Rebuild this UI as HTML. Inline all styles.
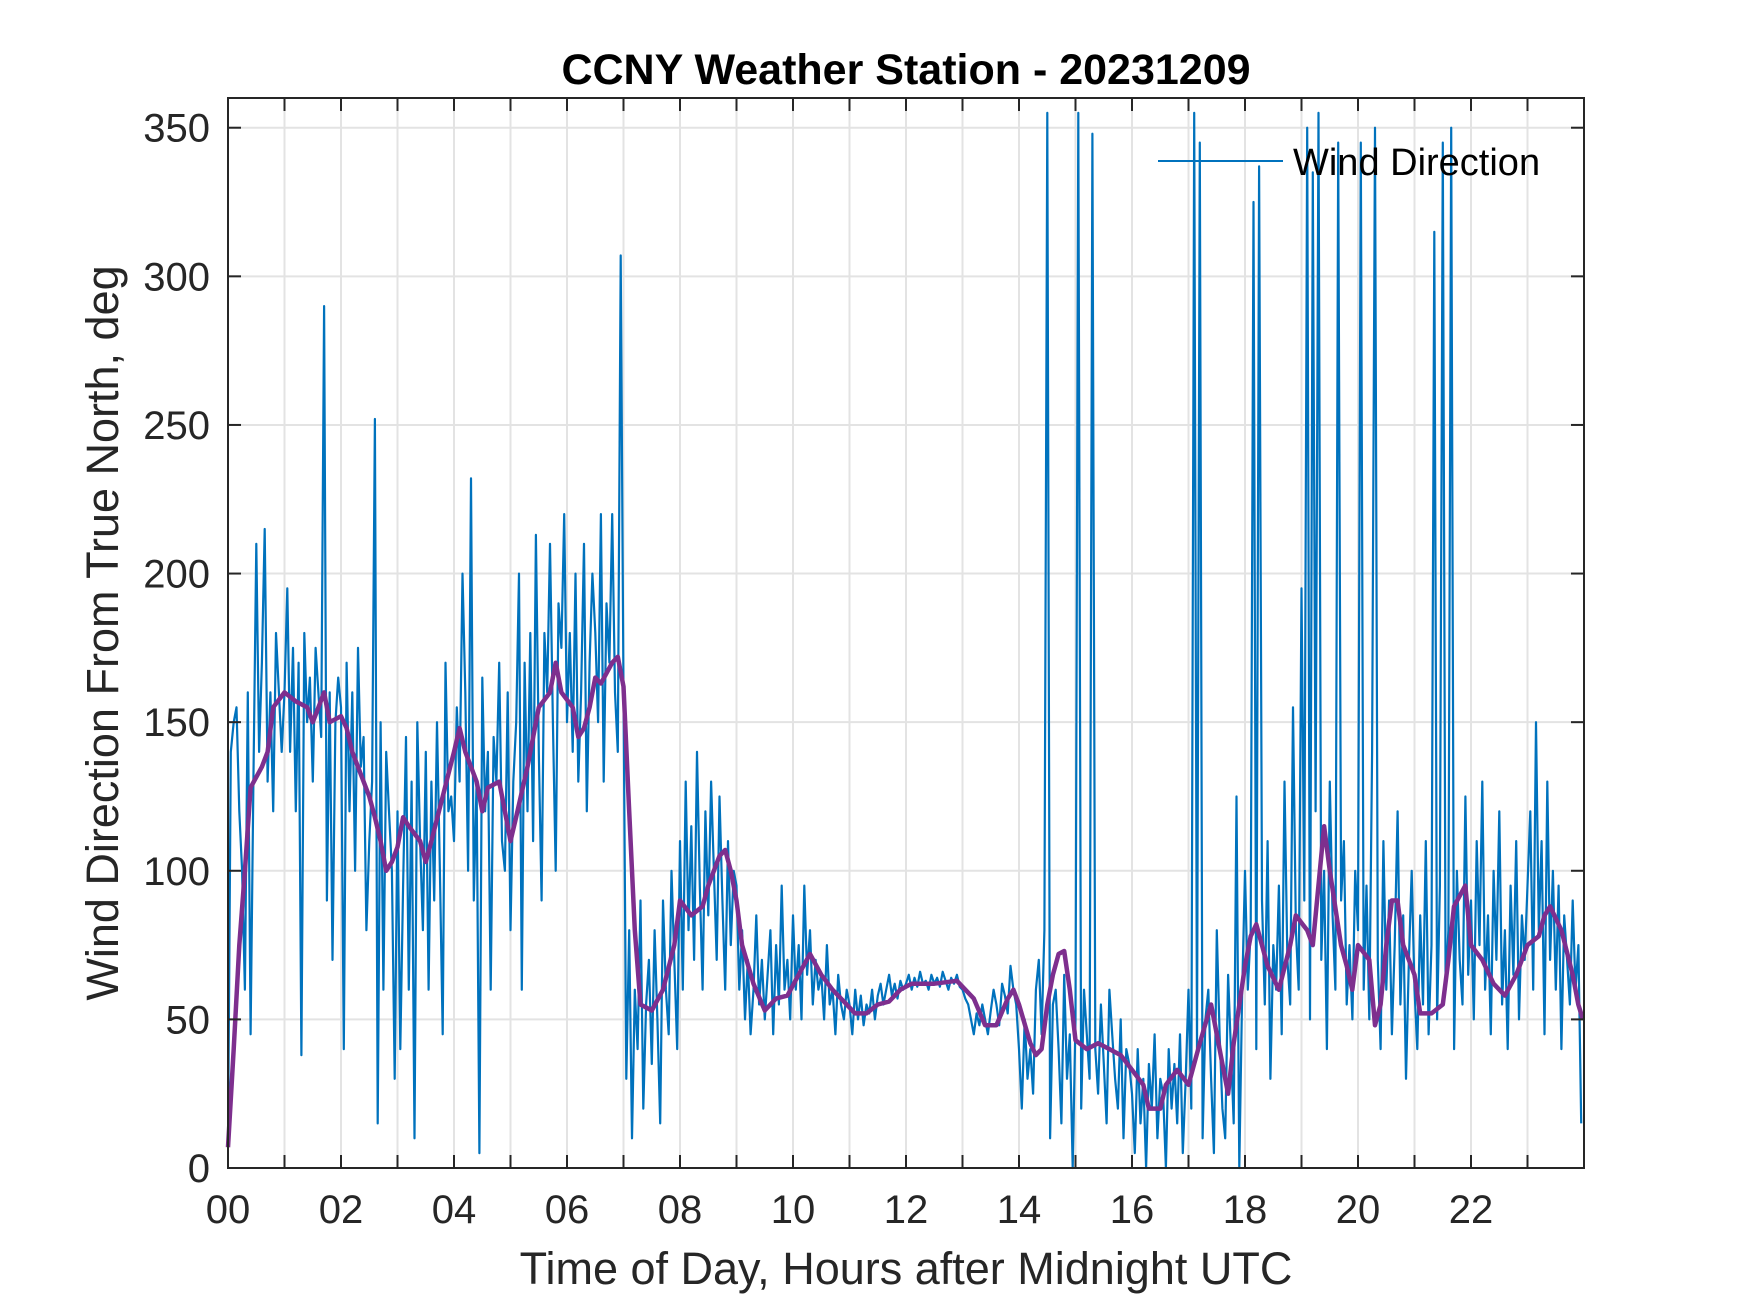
<!DOCTYPE html>
<html><head><meta charset="utf-8"><style>
html,body{margin:0;padding:0;background:#fff}
svg{display:block;font-family:"Liberation Sans",Arial,sans-serif}
</style></head><body>
<svg id="chart" width="1750" height="1313" viewBox="0 0 1750 1313" xmlns="http://www.w3.org/2000/svg">
<rect width="1750" height="1313" fill="#fff"/>
<g id="grid"></g>
<g id="plot"></g>
<g id="axes"></g>
<text x="906" y="84" font-size="43" font-weight="bold" text-anchor="middle" fill="#000">CCNY Weather Station - 20231209</text>
<text x="906" y="1284" font-size="45" text-anchor="middle" fill="#262626">Time of Day, Hours after Midnight UTC</text>
<text transform="translate(118,633) rotate(-90)" font-size="45" text-anchor="middle" fill="#262626">Wind Direction From True North, deg</text>
<g>
<line x1="1158" y1="161" x2="1283" y2="161" stroke="#0072BD" stroke-width="2"/>
<text x="1293" y="175" font-size="38" fill="#000">Wind Direction</text>
</g>
</svg>
<script>
const xTicks = [0,2,4,6,8,10,12,14,16,18,20,22];
const xTickLabels = ["00","02","04","06","08","10","12","14","16","18","20","22"];
const yTicks = [0,50,100,150,200,250,300,350];
const rawStep = 0.05;
const rawDir = [
8,140,150,155,120,100,60,160,45,130,210,140,170,215,130,160,120,180,160,140,
160,195,140,175,120,170,38,180,150,165,130,175,160,145,290,90,160,70,150,165,
155,40,170,120,160,100,175,135,145,80,110,130,252,15,150,60,140,120,100,30,
120,40,95,145,60,130,10,150,110,80,140,60,130,90,150,100,45,170,120,125,
110,155,130,200,160,100,232,90,130,5,165,120,140,60,145,130,170,110,100,160,
80,130,150,200,60,170,120,180,110,213,140,90,180,160,210,150,100,190,175,220,
150,180,140,200,130,160,210,120,170,200,180,150,220,130,190,170,220,160,140,307,
160,30,80,10,60,40,90,20,55,70,35,80,50,15,90,60,45,100,70,40,
110,60,130,80,115,70,140,95,60,120,85,130,100,70,125,90,60,110,75,100,
95,60,80,50,70,45,60,85,55,70,50,65,80,45,75,55,95,60,70,50,
85,60,75,50,95,65,80,55,70,60,65,50,75,55,60,45,65,55,50,60,
55,45,60,50,58,48,55,52,60,50,58,62,55,60,65,58,62,57,63,60,
62,65,60,64,61,66,62,63,60,65,62,64,61,66,63,60,64,62,65,61,
60,57,55,50,45,52,48,55,50,45,53,60,55,48,62,58,52,68,60,55,
40,20,50,30,40,25,60,70,45,80,355,10,55,60,40,15,65,30,45,0,
50,355,20,60,45,30,348,40,25,55,35,15,60,45,30,20,50,10,40,35,
25,5,40,15,30,0,35,20,45,10,30,25,0,40,20,35,15,45,5,30,
60,20,355,40,345,10,50,60,30,5,80,45,20,10,65,40,15,125,0,60,
100,60,80,325,40,337,90,55,110,30,75,60,95,45,130,70,55,155,80,60,
195,90,350,50,335,120,355,70,100,40,130,85,60,345,90,110,55,75,50,100,
80,345,60,95,50,140,350,70,40,110,60,90,45,75,120,55,85,30,70,100,
60,40,85,55,110,45,75,315,50,95,345,60,80,350,40,100,70,55,125,65,
90,50,110,75,130,60,85,45,100,70,120,55,80,40,95,65,110,50,85,70,
95,120,60,150,80,110,45,130,70,100,60,95,40,85,70,55,90,60,75,15
];
const avgHours = [0,0.1,0.2,0.3,0.4,0.6,0.7,0.8,1.0,1.2,1.4,1.5,1.7,1.8,2.0,2.1,2.2,2.4,2.5,2.6,2.7,2.8,2.9,3.0,3.1,3.2,3.4,3.5,3.6,3.8,4.0,4.1,4.2,4.4,4.5,4.6,4.8,4.9,5.0,5.1,5.3,5.5,5.7,5.8,5.9,6.1,6.2,6.3,6.4,6.5,6.6,6.8,6.9,7.0,7.1,7.2,7.3,7.5,7.7,7.9,8.0,8.2,8.4,8.5,8.7,8.8,8.9,9.0,9.1,9.3,9.5,9.7,9.9,10.1,10.3,10.5,10.7,10.9,11.1,11.3,11.5,11.7,11.9,12.1,12.5,12.9,13.2,13.4,13.6,13.8,13.9,14.0,14.2,14.3,14.4,14.5,14.6,14.7,14.8,14.9,15.0,15.2,15.4,15.6,15.8,16.0,16.2,16.3,16.5,16.6,16.8,17.0,17.2,17.4,17.5,17.6,17.7,17.8,18.0,18.1,18.2,18.4,18.6,18.8,18.9,19.1,19.2,19.4,19.5,19.7,19.8,19.9,20.0,20.2,20.3,20.4,20.5,20.6,20.7,20.8,21.0,21.1,21.3,21.5,21.6,21.7,21.9,22.0,22.2,22.4,22.6,22.8,23.0,23.2,23.3,23.4,23.6,23.8,23.9,23.98];
const avgDir = [7,40,75,100,128,135,140,155,160,157,155,150,160,150,152,148,140,130,125,118,110,100,103,108,118,115,110,103,110,125,140,148,140,130,120,128,130,120,110,118,135,155,160,170,160,155,145,148,155,165,163,170,172,162,120,80,55,53,60,75,90,85,88,95,105,107,100,90,75,62,53,57,58,65,72,65,60,56,52,52,55,56,60,62,62,63,57,48,48,57,60,55,42,38,40,55,65,72,73,60,43,40,42,40,38,33,28,20,20,28,33,28,42,55,45,35,25,42,68,78,82,68,60,75,85,80,75,115,100,75,68,60,75,70,48,55,75,90,90,75,65,52,52,55,70,88,95,75,70,62,58,65,75,78,85,88,80,65,55,50];

const L=228,R=1584,T=98,B=1168, XMAX=24, YMAX=360;
const sx = h => L + (R-L)*h/XMAX;
const sy = v => B - (B-T)*v/YMAX;
const NS="http://www.w3.org/2000/svg";
function mk(tag, attrs, parent){const e=document.createElementNS(NS,tag);for(const k in attrs)e.setAttribute(k,attrs[k]);parent.appendChild(e);return e;}
const grid=document.getElementById('grid'), plot=document.getElementById('plot'), axes=document.getElementById('axes');

for(let h=1;h<XMAX;h++){
  const g=mk('line',{x1:sx(h),x2:sx(h),y1:T,y2:B,stroke:'#e3e3e3','stroke-width':2},grid);
  
  
}
yTicks.forEach(v=>{
  const g=mk('line',{x1:L,x2:R,y1:sy(v),y2:sy(v),stroke:'#e3e3e3','stroke-width':2},grid);
  
  
});

let d='';
rawDir.forEach((v,i)=>{d+=(i?'L':'M')+sx(i*rawStep).toFixed(1)+','+sy(v).toFixed(1);});
const raw=mk('path',{d:d,fill:'none',stroke:'#0072BD','stroke-width':2.2,'stroke-linejoin':'round'},plot);



let d2='';
avgHours.forEach((h,i)=>{d2+=(i?'L':'M')+sx(h).toFixed(1)+','+sy(avgDir[i]).toFixed(1);});
const avg=mk('path',{d:d2,fill:'none',stroke:'#7E2F8E','stroke-width':4.5,'stroke-linejoin':'round'},plot);



const box=mk('rect',{x:L,y:T,width:R-L,height:B-T,fill:'none',stroke:'#262626','stroke-width':2},axes);


for(let h=1;h<XMAX;h++){
  const t1=mk('line',{x1:sx(h),x2:sx(h),y1:B,y2:B-13,stroke:'#262626','stroke-width':2},axes);
  
  
  const t2=mk('line',{x1:sx(h),x2:sx(h),y1:T,y2:T+13,stroke:'#262626','stroke-width':2},axes);
  
  
}
xTicks.forEach((h,i)=>{
  const t=mk('text',{x:sx(h),y:1223,'font-size':40,'text-anchor':'middle',fill:'#262626'},axes);
  t.textContent=xTickLabels[i];
  
  
});
yTicks.forEach(v=>{
  const a=mk('line',{x1:L,x2:L+13,y1:sy(v),y2:sy(v),stroke:'#262626','stroke-width':2},axes);
  
  
  const b=mk('line',{x1:R,x2:R-13,y1:sy(v),y2:sy(v),stroke:'#262626','stroke-width':2},axes);
  
  
  const t=mk('text',{x:210,y:sy(v)+14,'font-size':40,'text-anchor':'end',fill:'#262626'},axes);
  t.textContent=String(v);
  
  
});
</script>
</body></html>
